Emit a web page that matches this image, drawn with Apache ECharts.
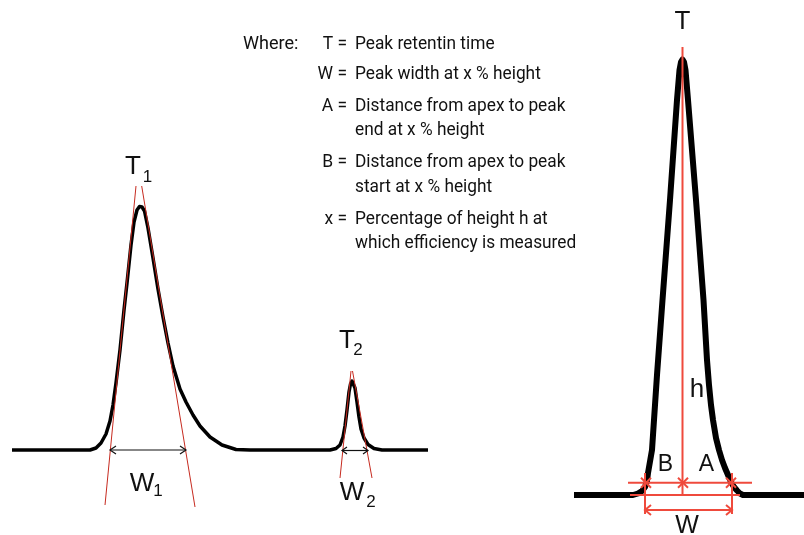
<!DOCTYPE html>
<html><head><meta charset="utf-8">
<script src="https://cdn.jsdelivr.net/npm/echarts@6/dist/echarts.min.js"></script>
<style>html,body{margin:0;padding:0;background:#fff}#c{width:804px;height:535px}</style>
</head><body><div id="c"></div>
<script>
// ---- data (diagram coordinates: x right, y down, same frame as the figure) ----
const leftTrace = [[12,450],[90,450],[96,448],[101,443],[106,434],[110,421],[113,405],[116,383],[120,350],[124,310],[127,283],[131,245],[134,222],[137,210],[139.5,206.5],[142,207],[144.5,211],[148,228],[153,258],[158,289],[163,317],[168,343],[173,366],[180,389],[186,402],[193,415],[200,426],[210,437],[222,445],[236,449.5],[250,450],[330,450],[336,448.5],[340,445],[343,437],[345,426],[347,410],[349,392],[350.5,384],[352,381],[353.5,382],[355,388],[357,402],[359,417],[361,429],[364,438],[368,444.5],[374,448.5],[382,450],[428,450]];
const rightTrace = [[574,495],[633,495],[638,493.5],[642,491],[645,487],[647,481],[648,473],[652,450],[657,375],[662.5,300],[670,200],[677,100],[679.5,70],[681,62],[682.5,59.5],[684,62],[685.5,70],[688,100],[696,200],[703.5,300],[707,360],[709,385],[711,405],[713,420],[716,438],[719,450],[722,460],[725,468],[728,475],[731,482],[734,487],[737,490.5],[740,493.5],[743,495],[804,495]];
const tangents = [[[136,186],[105,505]],[[141.7,186],[195,507]],[[351,371],[340,478]],[[352.5,371],[372,478]]];
const widthArrows = [[[110,450],[186,450],6,4],[[342,450.5],[368,450.5],5,3.5]];
const rightRed = [[[682.5,47],[682.5,495]],[[628,482.7],[752,482.7]],[[630,495],[740,495]],[[645,473],[645,514]],[[732,473],[732,514]],[[645,510],[732,510]]];
const rightArrow = [[645,510],[732,510]];
const crossPts = [[646,482.7],[683,482.7],[731,482.7]];
const legendKeys = ["T =","W =","A =","B =","x ="];
const legendKeyY = [44,74,106,162,219];
const legendLines = [["Peak retentin time",44],["Peak width at x % height",74],["Distance from apex to peak",106],["end at x % height",130],["Distance from apex to peak",162],["start at x % height",187],["Percentage of height h at",219],["which efficiency is measured",243]];

function chevrons(a, b, dx, dy){
  const s = Math.sign(b[0]-a[0]);
  return [
    {coords:[[a[0]+s*dx,a[1]-dy],a,[a[0]+s*dx,a[1]+dy]]},
    {coords:[[b[0]-s*dx,b[1]-dy],b,[b[0]-s*dx,b[1]+dy]]}
  ];
}
const crossSegs = [];
crossPts.forEach(p=>{crossSegs.push({coords:[[p[0]-5,p[1]-5],[p[0]+5,p[1]+5]]});crossSegs.push({coords:[[p[0]-5,p[1]+5],[p[0]+5,p[1]-5]]});});

const blackArrowSegs = [];
widthArrows.forEach(w=>{blackArrowSegs.push({coords:[w[0],w[1]]});chevrons(w[0],w[1],w[2],w[3]).forEach(c=>blackArrowSegs.push(c));});
const redRightSegs = rightRed.map(c=>({coords:c})).concat(chevrons(rightArrow[0],rightArrow[1],6,5)).concat(crossSegs);

const LBL = 'Liberation Sans, Arial, sans-serif';
const COND = 'Roboto, sans-serif';
const graphics = [];
function txt(x,y,t,size,align,font,sx){graphics.push({type:'text',x:x,y:y,scaleX:sx||1,silent:true,style:{text:t,font:size+'px '+(font||LBL),fill:'#111',textAlign:align||'center',textVerticalAlign:'middle'}});}
txt(243,44,'Where:',19,'left',COND,0.95);
legendKeys.forEach((k,i)=>txt(347,legendKeyY[i],k,19,'right',COND,0.92));
legendLines.forEach(l=>txt(355,l[1],l[0],19,'left',COND,0.91));
txt(133,167,'T',26); txt(147.5,177,'1',17);
txt(347,341,'T',26); txt(358,350,'2',17);
txt(142,484,'W',26); txt(158,491,'1',17);
txt(352,493,'W',26); txt(371,502,'2',17);
txt(682.5,22,'T',26);
txt(697,390,'h',26);
txt(665.5,465,'B',23); txt(706.5,465,'A',23);
txt(687,526,'W',25);

const chart = echarts.init(document.getElementById('c'),null,{renderer:'canvas'});
chart.setOption({
  animation:false,
  grid:{left:0,right:0,top:0,bottom:0},
  xAxis:{type:'value',min:0,max:804,show:false},
  yAxis:{type:'value',min:0,max:535,inverse:true,show:false},
  series:[
    {type:'line',data:leftTrace,showSymbol:false,lineStyle:{color:'#000',width:3.5,join:'round'},z:2},
    {type:'line',data:rightTrace,showSymbol:false,lineStyle:{color:'#000',width:6,join:'round'},z:2},
    {type:'lines',coordinateSystem:'cartesian2d',polyline:true,data:tangents.map(c=>({coords:c})),lineStyle:{color:'#c62a1f',width:1,opacity:1},z:3},
    {type:'lines',coordinateSystem:'cartesian2d',polyline:true,data:blackArrowSegs,lineStyle:{color:'#111',width:1.2,opacity:1},z:4},
    {type:'lines',coordinateSystem:'cartesian2d',polyline:true,data:redRightSegs,lineStyle:{color:'#ef4a3c',width:2,opacity:1},z:5}
  ],
  graphic:graphics
});
</script></body></html>
